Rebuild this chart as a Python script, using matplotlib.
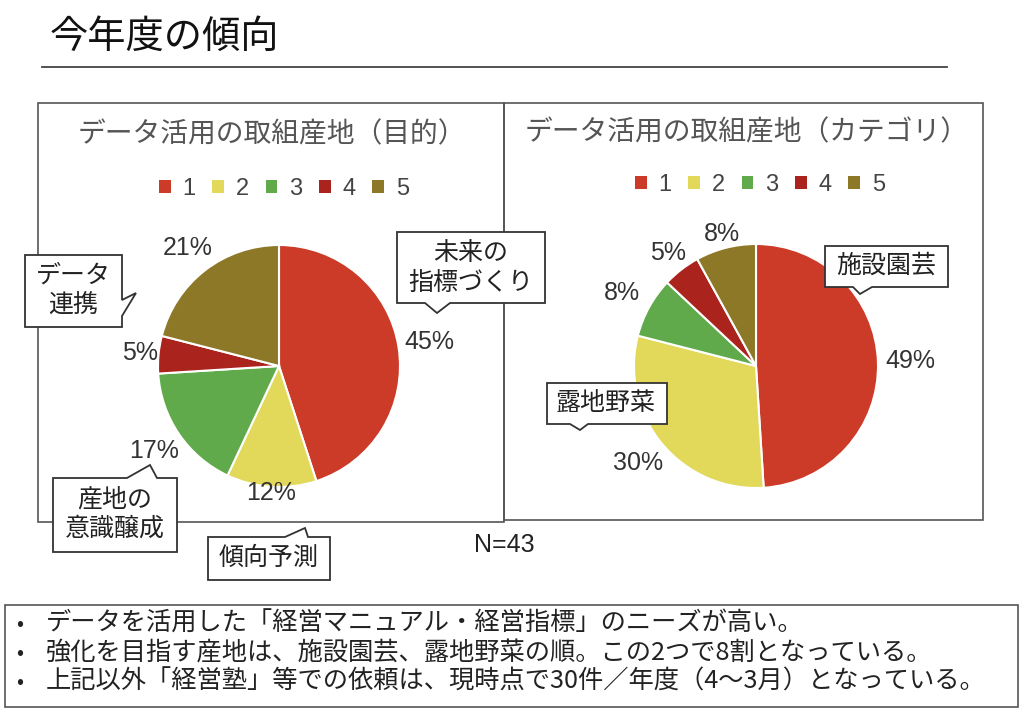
import matplotlib
matplotlib.use("Agg")
import matplotlib.pyplot as plt
import matplotlib.transforms as mtransforms
from matplotlib.patches import Polygon, Rectangle
from matplotlib.lines import Line2D
import numpy as np

# --- data ---
categories = ["1", "2", "3", "4", "5"]
colors = ["#CC3A28", "#E2D85A", "#60AA4B", "#AA231C", "#8C7826"]
purpose_pct = [45, 12, 17, 5, 21]      # 目的
category_pct = [49, 30, 8, 5, 8]       # カテゴリ
n_total = 43

page_title = "今年度の傾向"
left_title = "データ活用の取組産地（目的）"
right_title = "データ活用の取組産地（カテゴリ）"
bullets = [
    "データを活用した「経営マニュアル・経営指標」のニーズが高い。",
    "強化を目指す産地は、施設園芸、露地野菜の順。この2つで8割となっている。",
    "上記以外「経営塾」等での依頼は、現時点で30件／年度（4～3月）となっている。",
]

W, H = 1024, 713
plt.rcParams["font.family"] = ["Noto Sans CJK JP", "DejaVu Sans"]
NUM_FONT = ["Liberation Sans Narrow", "Liberation Sans", "DejaVu Sans"]

fig = plt.figure(figsize=(W / 100, H / 100), dpi=100)
fig.patch.set_facecolor("white")
# pixel coords, origin top-left
px = mtransforms.Affine2D().scale(1 / W, -1 / H).translate(0, 1) + fig.transFigure


def draw_pie(cx, cy, r, values, dists):
    ax = fig.add_axes([(cx - r) / W, 1 - (cy + r) / H, 2 * r / W, 2 * r / H])
    wedges, _ = ax.pie(values, colors=colors, startangle=90, counterclock=False,
                       wedgeprops=dict(edgecolor="white", linewidth=1.5))
    for w, v, d in zip(wedges, values, dists):
        ang = np.deg2rad((w.theta1 + w.theta2) / 2)
        ax.text(d * np.cos(ang), d * np.sin(ang), f"{v}%", ha="center", va="center",
                fontsize=18, family=NUM_FONT, color="#333333")
    ax.set_xlim(-1, 1)
    ax.set_ylim(-1, 1)
    ax.set_aspect("equal")
    ax.axis("off")
    return ax, wedges


def callout(x0, y0, x1, y1, side, a, b, tip, text, tx, ty):
    if side == "top":
        pts = [(x0, y0), (a, y0), tip, (b, y0), (x1, y0), (x1, y1), (x0, y1)]
    elif side == "bottom":
        pts = [(x0, y0), (x1, y0), (x1, y1), (b, y1), tip, (a, y1), (x0, y1)]
    else:  # right
        pts = [(x0, y0), (x1, y0), (x1, a), tip, (x1, b), (x1, y1), (x0, y1)]
    fig.patches.append(Polygon(pts, closed=True, transform=px, facecolor="white",
                               edgecolor="#333333", linewidth=1.3, zorder=5))
    fig.text(tx, ty, text, transform=px, ha="center", va="center", fontsize=18,
             color="#222222", linespacing=1.15, multialignment="center", zorder=6)


# page title + rule
fig.text(50, 37, page_title, transform=px, fontsize=27.5, ha="left", va="center", color="#111111")
fig.lines.append(Line2D([42, 947], [67, 67], transform=px, color="#444444", linewidth=1.3))

# panel frames
fig.patches.append(Rectangle((38, 103), 466, 419, transform=px, fill=False,
                             edgecolor="#555555", linewidth=1.2, zorder=1))
fig.patches.append(Rectangle((504, 103), 479, 417, transform=px, fill=False,
                             edgecolor="#555555", linewidth=1.2, zorder=1))

fig.text(272, 134, left_title, transform=px, fontsize=20, ha="center", va="center", color="#555555")
fig.text(747, 132, right_title, transform=px, fontsize=20, ha="center", va="center", color="#555555")

ax1, w1 = draw_pie(279, 366, 121, purpose_pct, [1.26, 1.05, 1.25, 1.15, 1.23])
ax2, w2 = draw_pie(756, 366, 122, category_pct, [1.27, 1.25, 1.25, 1.17, 1.12])

for ax, wedges, (lx, ly) in [(ax1, w1, (284, 189)), (ax2, w2, (760, 185))]:
    leg = ax.legend(wedges, categories, loc="center", ncol=5, frameon=False,
                    bbox_to_anchor=(lx / W, 1 - ly / H), bbox_transform=fig.transFigure,
                    handlelength=0.5, handleheight=0.5, handletextpad=0.5,
                    columnspacing=0.7, labelcolor="#444444",
                    prop=dict(family=NUM_FONT, size=17))
    for h in leg.legend_handles:
        h.set_edgecolor("none")

# callouts
callout(397, 232, 545, 303, "bottom", 425, 450, (437, 313), "未来の\n指標づくり", 471, 268)
callout(25, 255, 122, 327, "right", 300, 316, (136, 293), "データ\n連携", 73, 290)
callout(53, 478, 177, 552, "top", 127, 157, (150, 465), "産地の\n意識醸成", 115, 514)
callout(208, 537, 330, 580, "top", 285, 308, (305, 528), "傾向予測", 269, 558)
callout(825, 246, 948, 287, "bottom", 853, 872, (860, 294), "施設園芸", 886, 266)
callout(547, 383, 667, 424, "bottom", 570, 588, (580, 430), "露地野菜", 606, 403)

fig.text(504, 545, f"N={n_total}", transform=px, fontsize=18, family=NUM_FONT,
         ha="center", va="center", color="#222222")

# bottom notes
fig.patches.append(Rectangle((5, 605), 1013, 102, transform=px, fill=False,
                             edgecolor="#555555", linewidth=1.2, zorder=1))
for i, line in enumerate(bullets):
    y = 624 + i * 29
    fig.text(20, y, "•", transform=px, fontsize=15, ha="center", va="center", color="#222222")
    fig.text(46, y, line, transform=px, fontsize=18.2, ha="left", va="center", color="#222222")

fig.savefig("out.png", dpi=100, facecolor="white")
